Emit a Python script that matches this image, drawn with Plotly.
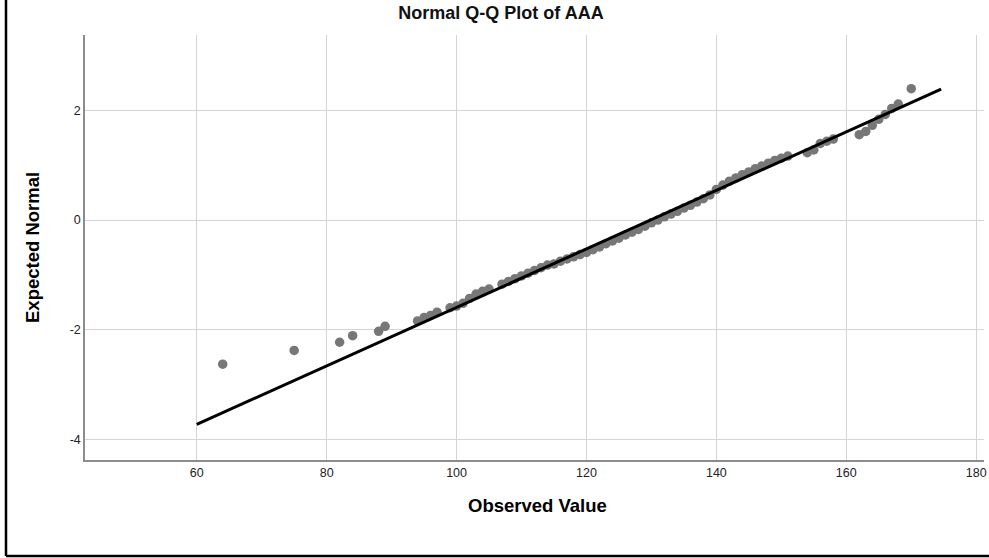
import plotly.graph_objects as go

observed = [64, 75, 82, 84, 88, 89,
            94, 95, 96, 97, 99, 100, 101, 102, 103, 104, 105, 107, 108, 109, 110,
            111, 112, 113, 114, 115, 116, 117, 118, 119, 120, 121, 122, 123, 124,
            125, 126, 127, 128, 129, 130, 131, 132, 133, 134, 135, 136, 137, 138,
            139, 140, 141, 142, 143, 144, 145, 146, 147, 148, 149, 150, 151,
            154, 155, 156, 157, 158, 162, 163, 164, 165, 166, 167, 168, 170]
expected = [-2.63, -2.38, -2.23, -2.11, -2.03, -1.94,
            -1.84, -1.78, -1.74, -1.68, -1.60, -1.57, -1.52, -1.43, -1.35, -1.30, -1.26, -1.17, -1.12, -1.07, -1.02,
            -0.97, -0.92, -0.87, -0.82, -0.80, -0.75, -0.71, -0.67, -0.63, -0.59, -0.54, -0.49, -0.43, -0.38,
            -0.33, -0.27, -0.22, -0.17, -0.11, -0.05, 0.00, 0.06, 0.11, 0.16, 0.22, 0.27, 0.33, 0.39,
            0.46, 0.56, 0.64, 0.71, 0.77, 0.83, 0.88, 0.94, 0.99, 1.04, 1.09, 1.13, 1.17,
            1.23, 1.28, 1.40, 1.44, 1.48, 1.56, 1.62, 1.73, 1.84, 1.93, 2.04, 2.12, 2.40]

# Reference line endpoints
line_x = [60, 174.6]
line_y = [-3.73, 2.39]

x_ticks = [60, 80, 100, 120, 140, 160, 180]
y_ticks = [-4, -2, 0, 2]

FONT = "Liberation Sans, Arial, sans-serif"

fig = go.Figure()
fig.add_trace(go.Scatter(x=observed, y=expected, mode="markers",
                         marker=dict(color="#777777", size=9.5),
                         showlegend=False, hoverinfo="x+y"))
fig.add_trace(go.Scatter(x=line_x, y=line_y, mode="lines",
                         line=dict(color="#000000", width=3),
                         showlegend=False, hoverinfo="skip"))

L, R, T, B = 85, 5, 35, 98
W, H = 989, 558
pw, ph = W - L - R, H - T - B

def px_x(px):
    return (px - L) / pw

def px_y(py):
    return (H - B - py) / ph

fig.update_layout(
    width=W, height=H,
    margin=dict(l=L, r=R, t=T, b=B, autoexpand=False),
    paper_bgcolor="white", plot_bgcolor="white",
    font=dict(family=FONT, color="#000000"),
    title=dict(text="Normal Q-Q Plot of AAA", x=501 / W,
               xanchor="center", y=1 - 13 / H, yanchor="middle",
               font=dict(size=18, family=FONT, color="#111111", weight="bold")),
    xaxis=dict(range=[42.8, 181.2], tickvals=x_ticks, ticktext=[str(v) for v in x_ticks],
               showgrid=True, gridcolor="#d4d4d4", gridwidth=1, zeroline=False,
               showline=True, linecolor="#8c8c8c", linewidth=1.5,
               ticks="", tickfont=dict(size=12.5, color="#222222"), automargin=False),
    yaxis=dict(range=[-4.38, 3.38], tickvals=y_ticks, ticktext=[str(v) for v in y_ticks],
               showgrid=True, gridcolor="#d4d4d4", gridwidth=1, zeroline=False,
               showline=True, linecolor="#8c8c8c", linewidth=1.5,
               ticks="", tickfont=dict(size=12.5, color="#222222"), automargin=False),
    annotations=[
        dict(text="<b>Observed Value</b>", xref="paper", yref="paper",
             x=px_x(537), y=px_y(506), xanchor="center", yanchor="middle",
             showarrow=False, font=dict(size=18.5, color="#000000", family=FONT)),
        dict(text="<b>Expected Normal</b>", xref="paper", yref="paper",
             x=px_x(32), y=px_y(248), xanchor="center", yanchor="middle",
             textangle=-90, showarrow=False, font=dict(size=18.5, color="#000000", family=FONT)),
    ],
    shapes=[
        dict(type="line", xref="paper", yref="paper",
             x0=px_x(6), x1=px_x(6), y0=px_y(0), y1=px_y(556),
             line=dict(color="#000000", width=2.5)),
        dict(type="line", xref="paper", yref="paper",
             x0=px_x(6), x1=px_x(989), y0=px_y(556), y1=px_y(556),
             line=dict(color="#000000", width=2.5)),
    ],
)

fig.write_html("out.html", config={"displayModeBar": False},
               post_script="document.body.style.margin='0';document.body.style.overflow='hidden';")
